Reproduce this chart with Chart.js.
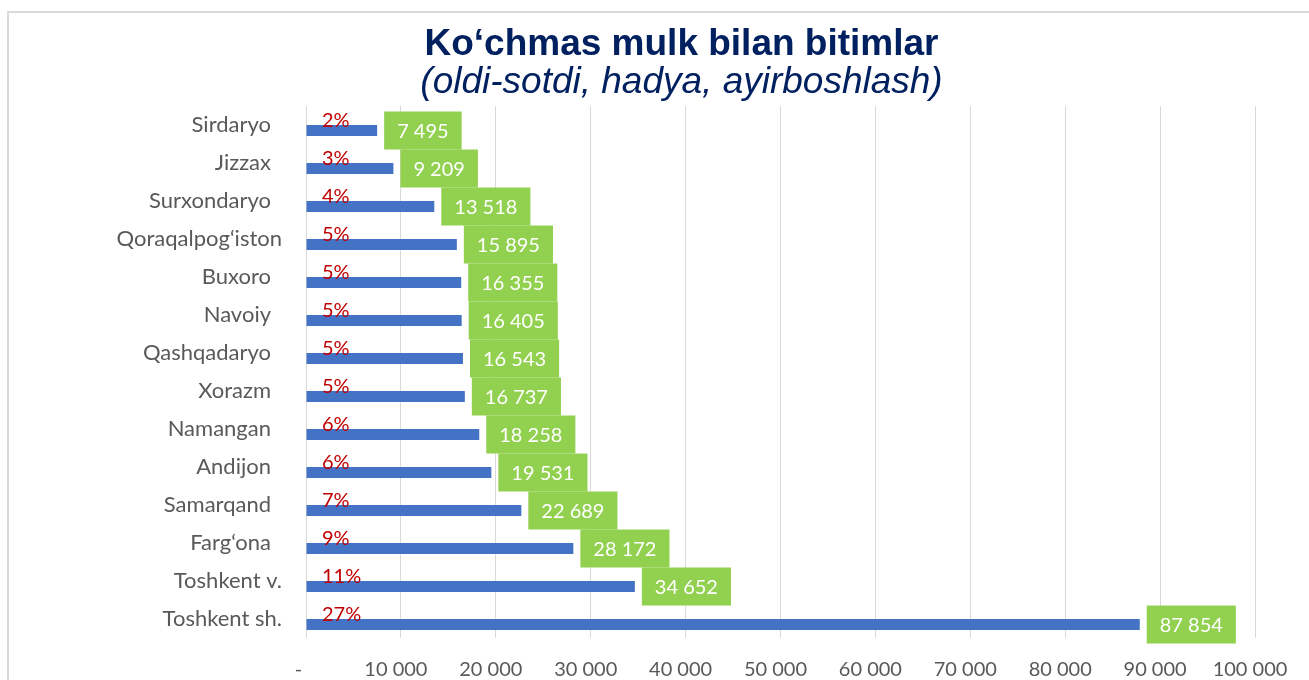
<!DOCTYPE html>
<html>
<head>
<meta charset="utf-8">
<script src="https://cdn.jsdelivr.net/npm/chart.js@4.4.1/dist/chart.umd.min.js"></script>
<style>
  html, body { margin: 0; padding: 0; background: #fff; overflow: hidden; }
  #wrap { position: relative; width: 1309px; height: 680px; overflow: hidden; }
  #frame { position: absolute; left: 7px; top: 11px; width: 1400px; height: 800px; border: 2px solid #D9D9D9; box-sizing: border-box; }
  canvas { position: absolute; left: 0; top: 0; }
  .ttl { position: absolute; left: 0; width: 1363px; text-align: center; color: #002060; font-family: 'Liberation Sans', Arial, sans-serif; font-size: 37px; line-height: 37px; white-space: nowrap; z-index: 2; }
  #t1 { top: 24px; font-weight: bold; }
  #t2 { top: 62px; font-style: italic; }
</style>
</head>
<body>
<div id="wrap">
  <div id="frame"></div>
  <canvas id="c" width="1309" height="680"></canvas>
  <div class="ttl" id="t1">Ko‘chmas mulk bilan bitimlar</div>
  <div class="ttl" id="t2">(oldi-sotdi, hadya, ayirboshlash)</div>
</div>
<script>
const regions = ['Sirdaryo', 'Jizzax', 'Surxondaryo', 'Qoraqalpog‘iston', 'Buxoro', 'Navoiy', 'Qashqadaryo', 'Xorazm', 'Namangan', 'Andijon', 'Samarqand', 'Farg‘ona', 'Toshkent v.', 'Toshkent sh.'];
const deals = [7495, 9209, 13518, 15895, 16355, 16405, 16543, 16737, 18258, 19531, 22689, 28172, 34652, 87854];
const shares = [2, 3, 4, 5, 5, 5, 5, 5, 6, 6, 7, 9, 11, 27];
const xTicks = [0, 10000, 20000, 30000, 40000, 50000, 60000, 70000, 80000, 90000, 100000];
const tightLabels = ['Qoraqalpog‘iston', 'Toshkent v.', 'Toshkent sh.'];

const FONT = "Lato, 'Open Sans', sans-serif";
const fmt = v => String(Math.round(v)).replace(/\B(?=(\d{3})+(?!\d))/g, ' ');

const labelPlugin = {
  id: 'labels',
  afterDatasetsDraw(chart) {
    const ctx = chart.ctx;
    const m0 = chart.getDatasetMeta(0);
    const m1 = chart.getDatasetMeta(1);
    const x0 = chart.scales.x.getPixelForValue(0);
    ctx.save();
    ctx.font = '20px ' + FONT;
    ctx.textBaseline = 'middle';
    m1.data.forEach((bar, i) => {
      const txt = fmt(deals[i]);
      const w = ctx.measureText(txt).width;
      const bw = w + 26, bh = 38;
      const left = bar.x + 7;
      ctx.fillStyle = '#92D050';
      ctx.fillRect(left, bar.y - bh / 2, bw, bh);
      ctx.fillStyle = '#FFFFFF';
      ctx.textAlign = 'center';
      ctx.fillText(txt, left + bw / 2, bar.y + 1);
      ctx.fillStyle = '#C00000';
      ctx.textAlign = 'left';
      ctx.fillText(shares[i] + '%', x0 + 16, m0.data[i].y + 1);
    });
    ctx.restore();
  }
};

new Chart(document.getElementById('c'), {
  type: 'bar',
  data: {
    labels: regions,
    datasets: [
      { label: 'share', data: regions.map(() => 0), backgroundColor: 'rgba(0,0,0,0)', borderWidth: 0 },
      { label: 'deals', data: deals, backgroundColor: '#4472C4', borderWidth: 0 }
    ]
  },
  options: {
    indexAxis: 'y',
    responsive: false,
    animation: false,
    events: [],
    categoryPercentage: 0.58,
    barPercentage: 1.0,
    layout: { padding: { top: 106, right: 54, left: 0, bottom: 0 } },
    plugins: { legend: { display: false }, tooltip: { enabled: false }, title: { display: false } },
    scales: {
      x: {
        min: 0, max: 100000,
        afterBuildTicks(s) { s.ticks = xTicks.map(v => ({ value: v })); },
        afterFit(s) { s.height = 42; s.paddingLeft = 0; s.paddingRight = 0; },
        grid: { color: '#D9D9D9', lineWidth: 1, drawTicks: false },
        border: { display: false },
        ticks: {
          padding: 20, color: '#595959', font: { family: FONT, size: 20 },
          maxRotation: 0, autoSkip: false,
          callback: v => v === 0 ? '-\u2003' : fmt(v) + '\u2002'
        }
      },
      y: {
        afterFit(s) { s.width = 306; },
        grid: { display: false, drawTicks: false },
        border: { display: false },
        ticks: {
          padding: 24, color: '#595959', font: { family: FONT, size: 22 }, autoSkip: false,
          callback(v) { const l = this.getLabelForValue(v); return tightLabels.includes(l) ? l : l + '\u2002'; }
        }
      }
    }
  },
  plugins: [labelPlugin]
});
</script>
</body>
</html>
